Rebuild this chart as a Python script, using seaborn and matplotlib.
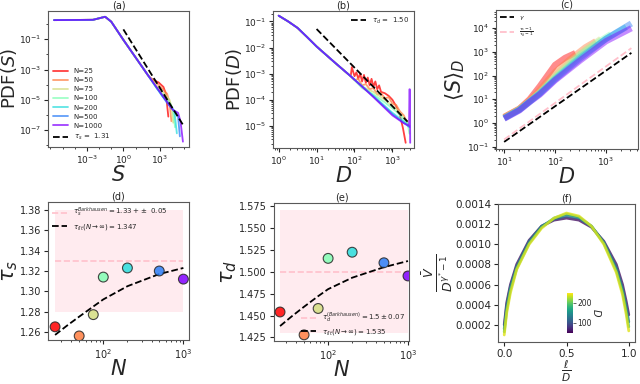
import matplotlib
matplotlib.use('Agg')
import matplotlib.pyplot as plt
import numpy as np
import seaborn as sns
from matplotlib.colors import Normalize
from matplotlib.ticker import FixedLocator, NullFormatter, LogLocator

sns.set_style('ticks')
plt.rcParams['font.family'] = ['DejaVu Sans']
plt.rcParams['mathtext.fontset'] = 'dejavusans'

# ---------------- data (log10 where noted) ----------------
N_vals = [25, 50, 75, 100, 200, 500, 1000]

# (a) PDF(S): shared head, then one tail per N  (log10 S, log10 PDF)
a_head_logS = [-5.7, -2.5, -1.5, -1.0, 0.0, 1.0, 2.0]
a_head_logP = [0.25, 0.27, 0.47, 0.15, -1.05, -2.2, -3.35]
a_tail_logS = {
    25: [2.2, 2.5, 2.9, 3.3, 3.5, 3.7],
    50: [2.4, 2.8, 3.2, 3.6, 3.8, 3.95],
    75: [2.6, 3.0, 3.4, 3.8, 4.0, 4.1],
    100: [2.8, 3.2, 3.6, 3.9, 4.1, 4.25],
    200: [3.2, 3.6, 4.0, 4.2, 4.4],
    500: [3.6, 4.0, 4.3, 4.5, 4.65],
    1000: [3.8, 4.1, 4.5, 4.7, 4.9],
}
a_tail_logP = {
    25: [-3.55, -3.7, -3.85, -4.15, -4.6, -6.1],
    50: [-3.7, -3.95, -4.25, -4.6, -5.2, -6.4],
    75: [-3.95, -4.3, -4.6, -5.0, -5.6, -6.5],
    100: [-4.3, -4.6, -4.95, -5.3, -5.7, -6.8],
    200: [-4.75, -5.1, -5.5, -5.75, -7.2],
    500: [-5.2, -5.6, -5.8, -6.1, -7.4],
    1000: [-5.35, -5.67, -5.85, -6.4, -7.75],
}
a_fit_logS = [0.0, 4.95]
a_fit_logP = [-0.36, -6.7]

# (b) PDF(D)
b_head_logD = [0.0, 0.25, 0.5, 0.75, 1.0, 1.5, 1.9]
b_head_logP = [-0.78, -1.0, -1.25, -1.6, -1.96, -2.6, -3.1]
b_tail_logD = {
    25: [1.93, 2.0, 2.05, 2.1, 2.15, 2.2, 2.25, 2.3, 2.35, 2.4, 2.45, 2.5, 2.55, 2.6,
         2.65, 2.7, 2.8, 2.9, 3.0, 3.1, 3.2, 3.28, 3.35],
    50: [2.0, 2.1, 2.2, 2.3, 2.4, 2.5, 2.6, 2.7, 2.8, 2.9, 3.0, 3.1, 3.2, 3.3, 3.4],
    75: [2.2, 2.5, 2.8, 3.1, 3.4],
    100: [2.2, 2.5, 2.8, 3.1, 3.4, 3.45],
    200: [2.5, 3.0, 3.45],
    500: [2.5, 3.0, 3.45],
    1000: [2.5, 3.0, 3.3, 3.44, 3.45, 3.46, 3.47],
}
b_tail_logP = {
    25: [-2.75, -3.1, -2.95, -3.2, -3.0, -3.3, -3.05, -3.35, -3.15, -3.45, -3.2, -3.5, -3.3,
         -3.6, -3.45, -3.7, -3.75, -3.85, -4.0, -4.25, -4.6, -5.1, -5.65],
    50: [-3.25, -3.2, -3.45, -3.4, -3.6, -3.55, -3.8, -3.75, -3.95, -3.9, -4.15, -4.2,
         -4.45, -4.6, -4.9],
    75: [-3.5, -3.7, -4.0, -4.35, -4.85],
    100: [-3.55, -3.8, -4.1, -4.45, -4.9, -5.3],
    200: [-3.85, -4.5, -5.0],
    500: [-3.88, -4.55, -5.05],
    1000: [-3.9, -4.6, -4.9, -5.0, -3.6, -3.6, -5.65],
}
b_fit_logD = [1.0, 3.4]
b_fit_logP = [-1.29, -4.84]

# (c) <S>_D
c_logD = {
    25: [1.0, 1.3, 1.5, 1.7, 1.9, 2.0, 2.2, 2.4],
    50: [1.0, 1.3, 1.5, 1.7, 2.0, 2.3, 2.6, 2.8],
    75: [1.0, 1.3, 1.5, 1.7, 2.0, 2.3, 2.6, 2.9],
    100: [1.0, 1.3, 1.5, 1.7, 2.0, 2.5, 2.8, 3.1],
    200: [1.0, 1.3, 1.5, 1.7, 2.0, 2.5, 3.0, 3.4],
    500: [1.0, 1.3, 1.5, 1.7, 2.0, 2.5, 3.0, 3.5],
    1000: [1.0, 1.3, 1.5, 1.7, 2.0, 2.5, 3.0, 3.5],
}
c_logS = {
    25: [0.25, 0.6, 1.0, 1.55, 2.15, 2.45, 2.75, 2.95],
    50: [0.25, 0.6, 0.95, 1.4, 2.15, 2.7, 3.2, 3.45],
    75: [0.22, 0.58, 0.92, 1.3, 2.0, 2.6, 3.1, 3.55],
    100: [0.2, 0.57, 0.9, 1.27, 1.92, 2.9, 3.35, 3.75],
    200: [0.2, 0.56, 0.9, 1.25, 1.87, 2.8, 3.55, 4.05],
    500: [0.2, 0.55, 0.9, 1.23, 1.83, 2.72, 3.55, 4.2],
    1000: [0.18, 0.53, 0.88, 1.2, 1.8, 2.65, 3.45, 4.0],
}
c_gamma_logD = [1.0, 3.5]
c_gamma_logS = [-0.8, 2.96]
c_ratio_logD = [1.0, 3.5]
c_ratio_logS = [-0.7, 3.16]

# (d), (e) exponents vs N
tau_s = [1.265, 1.256, 1.277, 1.314, 1.323, 1.320, 1.312]
tau_d = [1.454, 1.428, 1.458, 1.515, 1.522, 1.510, 1.495]
fit_N = [25, 35, 50, 75, 100, 200, 500, 1000]
fit_tau_s = [1.257, 1.266, 1.275, 1.285, 1.292, 1.305, 1.317, 1.323]
fit_tau_d = [1.438, 1.449, 1.460, 1.472, 1.480, 1.493, 1.505, 1.512]
band_N = [25, 1000]

# (f) rescaled average shape, one curve per D (values in units of 1e-4)
f_x = [0.0, 0.02, 0.05, 0.1, 0.2, 0.3, 0.4, 0.5, 0.6, 0.7, 0.8, 0.9, 0.95, 0.98, 1.0]
f_D = [60, 120, 180, 240]
f_V = {
    60: [2.0, 4.2, 6.0, 8.0, 10.4, 11.8, 12.4, 12.6, 12.4, 11.7, 10.3, 8.0, 6.0, 4.3, 3.0],
    120: [1.6, 3.9, 5.8, 7.8, 10.3, 11.8, 12.5, 12.8, 12.6, 11.8, 10.2, 7.7, 5.6, 3.8, 2.3],
    180: [1.3, 3.5, 5.5, 7.6, 10.1, 11.7, 12.6, 13.0, 12.7, 11.8, 10.1, 7.4, 5.3, 3.4, 1.8],
    240: [1.0, 3.2, 5.2, 7.5, 10.0, 11.6, 12.6, 13.1, 12.8, 11.8, 10.0, 7.2, 5.0, 3.0, 1.4],
}

# ---------------- figure ----------------
colors = [plt.cm.rainbow(v) for v in [1.0, 5 / 6, 4 / 6, 3 / 6, 2 / 6, 1 / 6, 0.0]]
fig = plt.figure(figsize=(6.4, 3.84), dpi=100)
XLAB = 15
YLAB = 13


def place(l, t, r, b):
    return fig.add_axes([l / 640, 1 - b / 384, (r - l) / 640, (b - t) / 384])


def style(ax, title, tsize=6.5):
    ax.set_title(title, fontsize=7, pad=2)
    ax.tick_params(labelsize=tsize, length=3, width=0.8, pad=2)
    ax.tick_params(which='minor', length=1.5, width=0.6)
    for sp in ax.spines.values():
        sp.set_color('0.35')
        sp.set_linewidth(0.8)


def lp(ax, x, y, **kw):
    sns.lineplot(x=x, y=y, ax=ax, sort=False, estimator=None, **kw)


p10 = lambda v: np.power(10.0, np.asarray(v, dtype=float))

# (a)
ax = place(48, 11, 189, 147)
for n, c in zip(N_vals, colors):
    lp(ax, p10(a_head_logS + a_tail_logS[n]), p10(a_head_logP + a_tail_logP[n]),
       color=c, lw=1.3, alpha=0.75, label=f'N={n}')
lp(ax, p10(a_fit_logS), p10(a_fit_logP), color='k', lw=1.3, ls='--', label=r'$\tau_s$ =  1.31')
ax.set_xscale('log')
ax.set_yscale('log')
ax.set_xlim(10 ** -6.2, 10 ** 5.4)
ax.set_ylim(10 ** -8.1, 10 ** 0.85)
ax.xaxis.set_major_locator(FixedLocator([1e-3, 1e0, 1e3]))
ax.yaxis.set_major_locator(FixedLocator([1e-1, 1e-3, 1e-5, 1e-7]))
ax.xaxis.set_minor_locator(LogLocator(base=10, subs=(1.0,), numticks=20))
ax.yaxis.set_minor_locator(LogLocator(base=10, subs=(1.0,), numticks=20))
ax.xaxis.set_minor_formatter(NullFormatter())
ax.yaxis.set_minor_formatter(NullFormatter())
ax.set_xlabel('$S$', fontsize=XLAB, labelpad=-1)
ax.set_ylabel('PDF($S$)', fontsize=YLAB, labelpad=0)
ax.legend(loc='lower left', fontsize=5, frameon=False, handlelength=2.2,
          borderaxespad=0.3, labelspacing=0.45)
style(ax, '(a)')

# (b)
ax = place(273, 11, 414, 148)
for n, c in zip(N_vals, colors):
    lp(ax, p10(b_head_logD + b_tail_logD[n]), p10(b_head_logP + b_tail_logP[n]),
       color=c, lw=1.3, alpha=0.75)
lp(ax, p10(b_fit_logD), p10(b_fit_logP), color='k', lw=1.3, ls='--', label=r'$\tau_d$ =  1.50')
ax.set_xscale('log')
ax.set_yscale('log')
ax.set_xlim(10 ** -0.15, 10 ** 3.57)
ax.set_ylim(10 ** -5.85, 10 ** -0.6)
ax.xaxis.set_major_locator(FixedLocator([1e0, 1e1, 1e2, 1e3]))
ax.yaxis.set_major_locator(FixedLocator([1e-1, 1e-2, 1e-3, 1e-4, 1e-5]))
ax.set_xlabel('$D$', fontsize=XLAB, labelpad=-1)
ax.set_ylabel('PDF($D$)', fontsize=YLAB, labelpad=0)
ax.legend(loc='upper right', fontsize=5, frameon=False, handlelength=2.2, borderaxespad=0.3)
style(ax, '(b)')

# (c)
ax = place(496, 10, 638, 149)
for n, c in zip(N_vals, colors):
    lp(ax, p10(c_logD[n]), p10(c_logS[n]), color=c, lw=4.5, alpha=0.45, solid_capstyle='butt')
lp(ax, p10(c_gamma_logD), p10(c_gamma_logS), color='k', lw=1.3, ls='--', label=r'$\gamma$')
lp(ax, p10(c_ratio_logD), p10(c_ratio_logS), color='pink', lw=1.3, ls='--',
   label=r'$\frac{\tau_s-1}{\tau_d-1}$')
ax.set_xscale('log')
ax.set_yscale('log')
ax.set_xlim(10 ** 0.84, 10 ** 3.63)
ax.set_ylim(10 ** -1.1, 10 ** 4.77)
ax.xaxis.set_major_locator(FixedLocator([1e1, 1e2, 1e3]))
ax.yaxis.set_major_locator(FixedLocator([1e-1, 1e0, 1e1, 1e2, 1e3, 1e4]))
ax.set_xlabel('$D$', fontsize=XLAB, labelpad=-1)
ax.set_ylabel(r'$\langle S\rangle_D$', fontsize=XLAB, labelpad=0)
ax.legend(loc='upper left', fontsize=4.5, frameon=False, handlelength=2.2, borderaxespad=0.3)
style(ax, '(c)')


# (d), (e)
def exponent_panel(ax, vals, fit, lo, hi, ref, ref_label, fit_label, legend_loc):
    ax.fill_between(band_N, [lo, lo], [hi, hi], color='pink', alpha=0.3, lw=0)
    lp(ax, band_N, [ref, ref], color='pink', lw=1.2, ls='--', label=ref_label)
    lp(ax, fit_N, fit, color='k', lw=1.3, ls='--', label=fit_label)
    sns.scatterplot(x=N_vals, y=vals, hue=N_vals, palette=colors, ax=ax, s=50,
                    alpha=0.85, edgecolor='0.15', linewidth=0.8, legend=False, zorder=5)
    ax.set_xscale('log')
    ax.legend(loc=legend_loc, fontsize=5, frameon=False, handlelength=2.2,
              borderaxespad=0.2, labelspacing=0.3)


ax = place(48, 202, 189, 340)
exponent_panel(ax, tau_s, fit_tau_s, 1.28, 1.38, 1.33,
               r'$\tau_s^{Barkhausen} = 1.33 + \pm\ 0.05$',
               r'$\tau_{fit}(N\to\infty) = 1.347$', 'upper left')
ax.set_xlim(20.4, 1175)
ax.set_ylim(1.252, 1.388)
st = [1.26, 1.28, 1.30, 1.32, 1.34, 1.36, 1.38]
ax.set_yticks(st)
ax.set_yticklabels([f'{v:.2f}' for v in st])
ax.set_xlabel('$N$', fontsize=XLAB, labelpad=-1)
ax.set_ylabel(r'$\tau_s$', fontsize=XLAB, labelpad=0)
style(ax, '(d)', tsize=7)

ax = place(274, 203, 409, 341)
exponent_panel(ax, tau_d, fit_tau_d, 1.43, 1.57, 1.50,
               r'$\tau_d^{(Barkhausen)} = 1.5 \pm 0.07$',
               r'$\tau_{fit}(N\to\infty) = 1.535$', 'lower right')
ax.set_xlim(21, 1030)
ax.set_ylim(1.421, 1.578)
dt = [1.425, 1.45, 1.475, 1.5, 1.525, 1.55, 1.575]
ax.set_yticks(dt)
ax.set_yticklabels([f'{v:.3f}' for v in dt])
ax.set_xlabel('$N$', fontsize=XLAB, labelpad=-1)
ax.set_ylabel(r'$\tau_d$', fontsize=XLAB, labelpad=0)
style(ax, '(e)', tsize=7)

# (f)
ax = place(498, 204, 635, 342)
norm = Normalize(vmin=50, vmax=250)
for d in f_D:
    lp(ax, f_x, np.asarray(f_V[d]) * 1e-4, color=plt.cm.viridis(norm(d)), lw=2.0, alpha=0.8)
ax.set_xlim(-0.05, 1.05)
ax.set_ylim(0.00003, 0.0014)
yt = [0.0002, 0.0004, 0.0006, 0.0008, 0.0010, 0.0012, 0.0014]
ax.set_yticks(yt)
ax.set_yticklabels([f'{v:.4f}' for v in yt])
ax.set_xticks([0.0, 0.5, 1.0])
ax.set_xticklabels(['0.0', '0.5', '1.0'])
ax.set_xlabel(r'$\frac{\ell}{D}$', fontsize=11, labelpad=0)
ax.set_ylabel(r'$\frac{\bar{V}}{D^{\gamma^{*}-1}}$', fontsize=YLAB, labelpad=0)
style(ax, '(f)', tsize=7.5)

cax = fig.add_axes([567 / 640, 1 - 333 / 384, 6 / 640, 40 / 384])
sm = plt.cm.ScalarMappable(norm=norm, cmap='viridis')
cb = fig.colorbar(sm, cax=cax, ticks=[100, 200])
cb.ax.tick_params(labelsize=5.5, length=2, width=0.5, pad=1)
cb.outline.set_visible(False)
cb.set_label('$D$', fontsize=7, rotation=270, labelpad=8)

fig.savefig('out.png', dpi=100)
